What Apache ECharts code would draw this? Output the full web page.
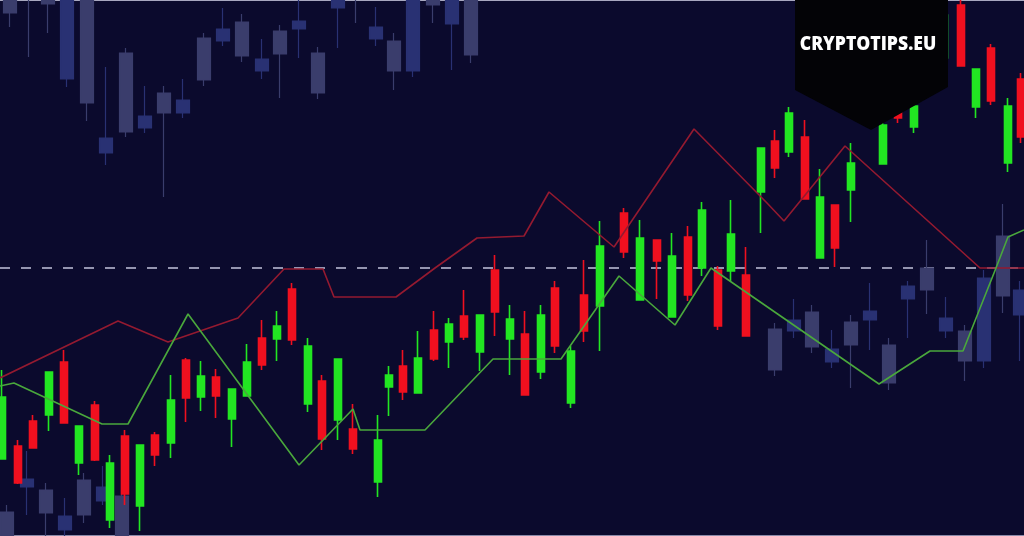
<!DOCTYPE html>
<html>
<head>
<meta charset="utf-8">
<script src="https://cdn.jsdelivr.net/npm/echarts@6/dist/echarts.min.js"></script>
<style>
  html, body { margin: 0; padding: 0; background: #0b0a2d; }
  #chart { width: 1024px; height: 536px; }
</style>
</head>
<body>
<div id="chart"></div>
<script>
// ---- data: [time, open, close, low, high] ----
const fgCandles = [
  [2, 77, 139, 77, 166], [18, 90, 53, 52, 96], [33, 115, 88, 88, 121], [49, 121, 164, 105, 164],
  [64, 174, 113, 113, 186], [79, 73, 110, 61, 110], [95, 131, 76, 75, 135], [110, 16, 73, 8, 81],
  [125, 100, 42, 31, 106], [140, 30, 91, 5, 91], [155, 101, 81, 70, 104], [171, 93, 136, 78, 161],
  [186, 176, 138, 114, 178], [201, 139, 160, 125, 175], [216, 159, 140, 118, 167], [232, 117, 147, 89, 147],
  [247, 140, 174, 140, 192], [262, 198, 171, 166, 216], [277, 197, 210, 175, 225], [292, 247, 196, 191, 253],
  [308, 132, 190, 124, 198], [322, 155, 97, 86, 161], [338, 116, 177, 96, 177], [353, 107, 87, 82, 132],
  [378, 54, 96, 39, 121], [389, 149, 161, 120, 170], [403, 170, 144, 136, 186], [418, 143, 178, 143, 205],
  [434, 206, 177, 175, 225], [449, 194, 212, 168, 218], [464, 220, 199, 196, 246], [480, 184, 221, 165, 221],
  [495, 266, 224, 200, 281], [510, 197, 217, 161, 231], [525, 202, 141, 141, 225], [541, 164, 221, 157, 231],
  [555, 248, 190, 183, 255], [571, 133, 185, 128, 190], [584, 241, 205, 194, 276], [600, 230, 290, 185, 315],
  [624, 323, 284, 278, 328], [640, 236, 298, 236, 316], [657, 296, 275, 237, 296], [672, 219, 280, 219, 303],
  [688, 299, 241, 235, 310], [702, 268, 326, 260, 334], [718, 266, 210, 206, 270], [731, 265, 302, 255, 336],
  [746, 261, 200, 200, 289], [761, 344, 388, 303, 388], [775, 395, 368, 358, 406], [789, 384, 423, 379, 429],
  [805, 399, 337, 337, 416], [820, 278, 339, 278, 367], [835, 331, 288, 269, 331], [851, 346, 373, 314, 393],
  [883, 372, 411, 372, 421], [898, 446, 418, 413, 451], [914, 409, 430, 403, 441], [944, 478, 521, 476, 526],
  [961, 531, 470, 470, 536], [976, 429, 467, 418, 467], [991, 488, 435, 431, 492], [1008, 373, 430, 364, 438],
  [1021, 457, 399, 393, 463]
];
const bgLight = [
  [10, 556, 523, 509, 560], [29, 576, 541, 479, 590], [48, 546, 532, 503, 550], [87, 546, 433, 415, 550],
  [126, 483, 404, 399, 488], [164, 443, 423, 339, 450], [204, 498, 456, 450, 503], [242, 514, 480, 474, 522],
  [280, 505, 482, 438, 511], [318, 483, 443, 437, 489], [356, 580, 560, 513, 590], [394, 495, 465, 446, 503],
  [433, 546, 531, 513, 550], [471, 546, 481, 473, 550],
  [7, 24, -4, -10, 31], [46, 46, 23, -4, 53], [84, 56, 21, 13, 63], [122, 40, -4, -10, 46],
  [775, 207, 166, 160, 213], [812, 224, 189, 183, 231], [851, 214, 191, 148, 221], [889, 191, 153, 146, 198],
  [927, 268, 246, 222, 296], [965, 205, 175, 155, 211], [1003, 300, 240, 223, 332]
];
const bgBlue = [
  [67, 546, 457, 449, 550], [106, 398, 383, 371, 469], [145, 420, 408, 403, 450], [183, 436, 423, 418, 457],
  [223, 507, 495, 490, 528], [262, 477, 465, 457, 497], [299, 515, 507, 478, 540], [338, 546, 528, 488, 550],
  [376, 509, 497, 490, 529], [413, 546, 465, 459, 550], [452, 546, 512, 466, 550],
  [27, 57, 49, 21, 85], [65, 20, 6, -4, 38], [103, 49, 35, 31, 70],
  [794, 216, 205, 198, 237], [832, 187, 174, 168, 206], [870, 225, 216, 186, 253], [908, 250, 237, 198, 255],
  [946, 218, 205, 198, 239], [984, 258, 175, 168, 266], [1020, 246, 221, 175, 255]
];
const redLine = [
  [0, 158], [118, 215], [168, 194], [238, 218], [284, 267], [323, 267], [334, 239], [396, 239],
  [435, 268], [477, 298], [524, 300], [549, 344], [614, 289], [694, 407], [767, 333], [784, 315],
  [845, 390], [980, 268], [1024, 268]
];
const greenLine = [
  [0, 150], [14, 153], [102, 112], [128, 112], [188, 222], [299, 71], [353, 127], [360, 106],
  [425, 106], [493, 177], [561, 177], [619, 260], [675, 211], [711, 268], [879, 152], [930, 185],
  [963, 185], [996, 268], [1008, 299], [1024, 306]
];
const refLevel = 268;
const brandText = 'CRYPTOTIPS.EU';

const chart = echarts.init(document.getElementById('chart'), null, { renderer: 'canvas' });
const bgCandleStyle = (c) => ({ color: c, color0: c, borderColor: c, borderColor0: c, borderWidth: 1.2 });

chart.setOption({
  backgroundColor: '#0b0a2d',
  animation: false,
  grid: { left: 0, right: 0, top: 0, bottom: 0 },
  xAxis: [
    { type: 'value', min: 0, max: 1024, position: 'bottom',
      axisLine: { show: true, lineStyle: { color: '#8a8aa8', width: 2 } },
      axisTick: { show: false }, axisLabel: { show: false }, splitLine: { show: false } },
    { type: 'value', min: 0, max: 1024, position: 'top',
      axisLine: { show: true, lineStyle: { color: '#a8a8c0', width: 2 } },
      axisTick: { show: false }, axisLabel: { show: false }, splitLine: { show: false } }
  ],
  yAxis: { type: 'value', min: 0, max: 536, show: false, splitLine: { show: false } },
  series: [
    {
      name: 'bgLight', type: 'candlestick', data: bgLight, encode: { x: 0, y: [1, 2, 3, 4] },
      barWidth: 13, itemStyle: bgCandleStyle('#3a3d6c'), clip: true, z: 2,
      markLine: {
        silent: true, symbol: 'none', z: 1, label: { show: false },
        lineStyle: { color: '#c4c4dc', type: [10, 11], width: 1.5 },
        data: [{ yAxis: refLevel }]
      }
    },
    {
      name: 'bgBlue', type: 'candlestick', data: bgBlue, encode: { x: 0, y: [1, 2, 3, 4] },
      barWidth: 13, itemStyle: bgCandleStyle('#293173'), clip: true, z: 2
    },
    {
      name: 'price', type: 'candlestick', data: fgCandles, encode: { x: 0, y: [1, 2, 3, 4] },
      barWidth: 7, clip: true, z: 3,
      itemStyle: { color: '#22e622', color0: '#f0101f', borderColor: '#22e622', borderColor0: '#f0101f', borderWidth: 1.6 }
    },
    {
      name: 'upper', type: 'line', data: redLine, symbol: 'none', z: 4,
      lineStyle: { color: '#941a30', width: 1.6 }
    },
    {
      name: 'lower', type: 'line', data: greenLine, symbol: 'none', z: 4,
      lineStyle: { color: '#4aa83c', width: 1.6 }
    }
  ],
  graphic: [
    { type: 'polygon', z: 100, shape: { points: [[795, 0], [948, 0], [948, 87], [871, 130], [795, 90]] },
      style: { fill: '#030306' } },
    { type: 'text', z: 101, x: 868, y: 44, scaleX: 0.88,
      style: { text: brandText, fill: '#ffffff', font: '800 20px "Open Sans", sans-serif',
        align: 'center', verticalAlign: 'middle' } }
  ]
});
</script>
</body>
</html>
